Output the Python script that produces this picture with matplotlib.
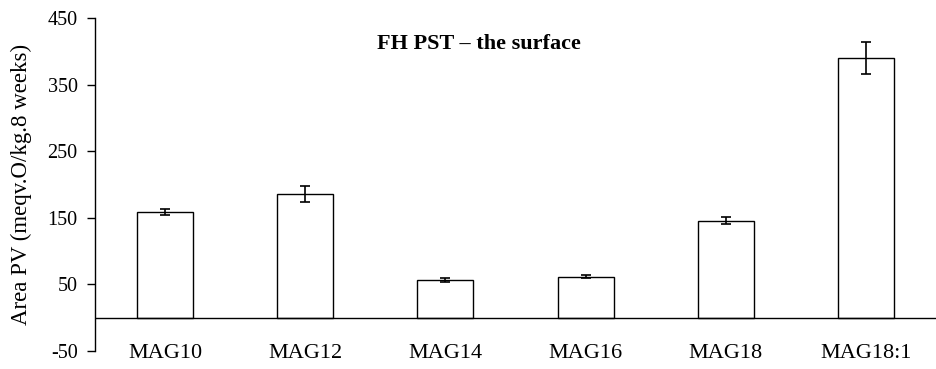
import numpy as np
import matplotlib
matplotlib.use("Agg")
import matplotlib.pyplot as plt

# values
categories = ["MAG10", "MAG12", "MAG14", "MAG16", "MAG18", "MAG18:1"]
area_pv = [159, 186, 57, 62, 146, 391]
errors = [5, 12, 3, 3, 5, 24]
y_ticks = [-50, 50, 150, 250, 350, 450]

plt.rcParams["font.family"] = ["Liberation Serif", "DejaVu Serif"]
plt.rcParams["axes.unicode_minus"] = False

fig = plt.figure(figsize=(9.36, 3.69), dpi=100)
ax = fig.add_axes([0.1015, 0.0488, 0.8985, 0.9012])

x = np.arange(len(categories))
ax.bar(x, area_pv, width=0.4, color="white", edgecolor="black", linewidth=1.0,
       yerr=errors, capsize=3.8, error_kw=dict(elinewidth=1.2, capthick=1.2, ecolor="black"),
       zorder=2)
ax.axhline(0, color="black", linewidth=1.0, zorder=3)

ax.set_xlim(-0.5, len(categories) - 0.5)
ax.set_ylim(-50, 450)
ax.set_yticks(y_ticks)
ax.set_xticks(x)
ax.set_xticklabels(categories)

for s in ["top", "right", "bottom"]:
    ax.spines[s].set_visible(False)
ax.spines["left"].set_linewidth(1.0)

ax.tick_params(axis="y", direction="out", length=5.5, width=1.0, labelsize=14.5, pad=7)
ax.tick_params(axis="x", length=0, labelsize=16, pad=-5)

ax.set_ylabel("Area PV (meqv.O/kg.8 weeks)", fontsize=16.5)
ax.yaxis.set_label_coords(-0.075, 0.5)
ax.text(2.24, 411, "FH PST \u2013 the surface", ha="center", va="center",
        fontsize=16, fontweight="bold")

fig.savefig("out.png", dpi=100)
